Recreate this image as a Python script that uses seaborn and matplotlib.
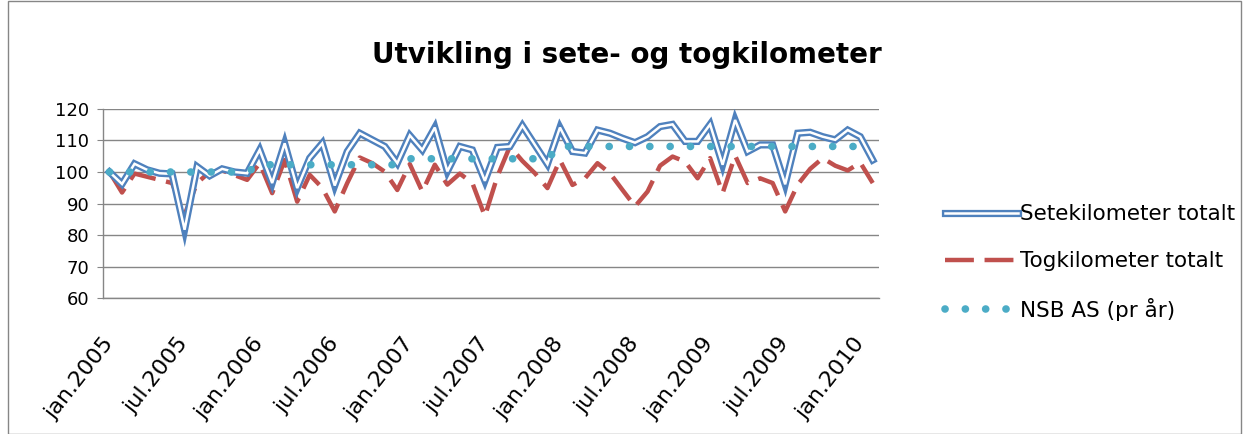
import matplotlib
matplotlib.use("Agg")
import matplotlib.pyplot as plt
import matplotlib.transforms as mtransforms
import seaborn as sns
import pandas as pd
from matplotlib.lines import Line2D
from matplotlib.patches import Rectangle

# monthly index values, jan.2005 - feb.2010
months = [f"{m}.{y}" for y in range(2005, 2011)
          for m in ["jan", "feb", "mar", "apr", "mai", "jun",
                    "jul", "aug", "sep", "okt", "nov", "des"]][:62]

setekm = [100, 96.2, 102.6, 100.7, 99.6, 99.4, 81.7, 101.7, 98.8, 101, 100, 99.6,
          107, 96.5, 109.1, 94.9, 104.4, 109.1, 95.7, 106.5, 112.3, 110.2, 108.1, 102.8,
          111.6, 107, 114.1, 100.2, 108.1, 107, 97.2, 107.8, 108.1, 114.7, 108.6, 102.5,
          114.1, 106.5, 106, 113.3, 112.3, 110.7, 109.3, 111.2, 114.4, 115.1, 109.7, 109.7,
          115.1, 102.3, 116.5, 106.5, 108.6, 108.6, 96.1, 112.3, 112.6, 111.2, 110.2, 113.3,
          111.2, 103.8]

togkm = [100, 93.5, 99.5, 98.5, 97.5, 96.5, 86.5, 96.5, 100, 100.5, 99, 97.5,
         102.8, 93.3, 103.8, 90.6, 99.1, 95, 87.5, 96.5, 104.6, 102.8, 100.1, 94.3,
         102.5, 93.8, 102.3, 96, 99.5, 96.5, 86, 98.6, 108.1, 103.5, 99.6, 94.9,
         103.8, 95.9, 98, 102.8, 99.6, 94.3, 89.1, 93.8, 102, 104.9, 103.3, 98,
         104.4, 93.3, 105.2, 96.5, 98, 96.5, 87.5, 96, 101, 104.4, 102, 100.5,
         103, 96.5]

# yearly value repeated for each month
nsb_year = {2005: 100, 2006: 102.3, 2007: 104.2, 2008: 108.1, 2009: 108.1, 2010: 108.1}
nsb = [nsb_year[int(m.split(".")[1])] for m in months]

tick_labels = ["jan.2005", "jul.2005", "jan.2006", "jul.2006", "jan.2007", "jul.2007",
               "jan.2008", "jul.2008", "jan.2009", "jul.2009", "jan.2010"]

df = pd.DataFrame({"idx": range(len(months)), "Maaned": months,
                   "Sete": setekm, "Tog": togkm, "NSB": nsb})

blue = "#4F81BD"
red = "#C0504D"
aqua = "#4BACC6"
grey = "#868686"
font = "DejaVu Sans"

fig = plt.figure(figsize=(12.47, 4.34), dpi=100)
ax = fig.add_axes([0.0828, 0.313, 0.6221, 0.436])

sns.lineplot(data=df, x="idx", y="Sete", ax=ax, color=blue, lw=5.2,
             solid_joinstyle="miter", zorder=3)
sns.lineplot(data=df, x="idx", y="Sete", ax=ax, color="white", lw=1.8,
             solid_joinstyle="miter", zorder=4)
sns.lineplot(data=df, x="idx", y="Tog", ax=ax, color=red, lw=3.2,
             linestyle=(0, (6.5, 2.4)), zorder=2)
sns.lineplot(data=df, x="idx", y="NSB", ax=ax, color=aqua, lw=5.5,
             linestyle=(0, (0.01, 2.65)), dash_capstyle="round", zorder=5)

ax.set_xlim(-0.5, len(months) - 0.5)
ax.set_ylim(60, 120)
ax.set_yticks(range(60, 121, 10))
ax.set_yticklabels([str(v) for v in range(60, 121, 10)], fontsize=13, family=font)
ax.set_xticks(range(0, len(months), 6))
ax.set_xticklabels(tick_labels, rotation=52, ha="right", va="center",
                   rotation_mode="anchor", fontsize=16, family=font)
shift = mtransforms.ScaledTranslation(5 / 72, 0, fig.dpi_scale_trans)
for lab in ax.get_xticklabels():
    lab.set_transform(lab.get_transform() + shift)
ax.tick_params(axis="x", length=0, pad=30)
ax.tick_params(axis="y", length=4, color=grey, pad=6)
ax.set_xlabel("")
ax.set_ylabel("")
ax.grid(axis="y", color=grey, lw=1)
ax.grid(axis="x", visible=False)
ax.set_axisbelow(True)
for s in ["top", "right"]:
    ax.spines[s].set_visible(False)
for s in ["left", "bottom"]:
    ax.spines[s].set_color(grey)
    ax.spines[s].set_linewidth(1)

fig.text(0.503, 0.873, "Utvikling i sete- og togkilometer", ha="center", va="center",
         fontsize=20, fontweight="bold", family=font)

h_sete = (Line2D([], [], color=blue, lw=5.2), Line2D([], [], color="white", lw=1.8))
h_tog = Line2D([], [], color=red, lw=3.2, linestyle=(0, (6.5, 2.4)))
h_nsb = Line2D([], [], color=aqua, lw=5.5, linestyle=(0, (0.01, 2.65)),
               dash_capstyle="round")
fig.legend([h_sete, h_tog, h_nsb],
           ["Setekilometer totalt", "Togkilometer totalt", "NSB AS (pr år)"],
           loc="center left", bbox_to_anchor=(0.749, 0.395), frameon=False,
           prop={"family": font, "size": 15.5}, handlelength=3.4,
           handletextpad=0.1, labelspacing=1.25, borderpad=0)

fig.patches.append(Rectangle((8 / 1247, 0), 1 - 14 / 1247, 0.997,
                             transform=fig.transFigure, fill=False,
                             ec=grey, lw=1))

fig.savefig("out.png", dpi=100)
